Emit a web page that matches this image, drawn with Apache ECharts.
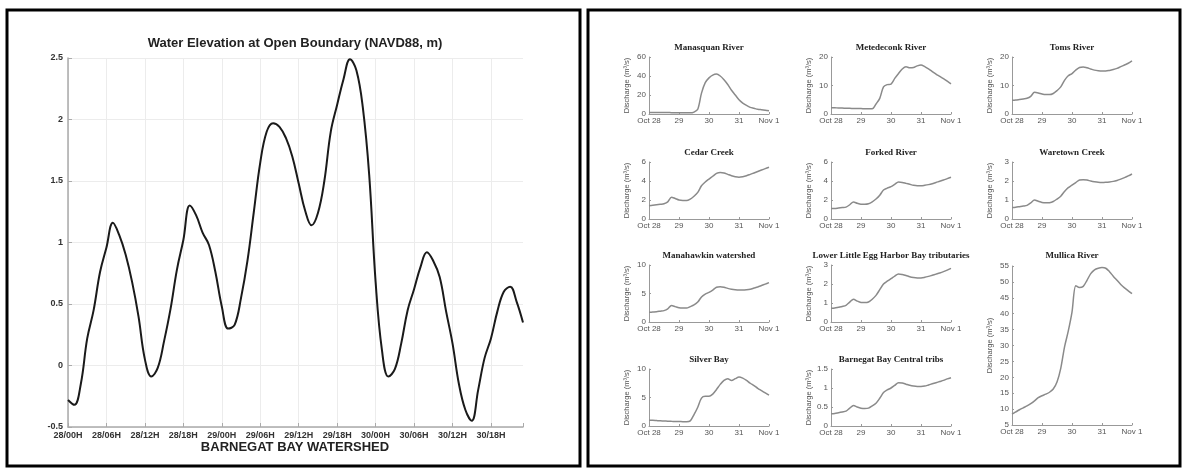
<!DOCTYPE html>
<html><head><meta charset="utf-8">
<script src="https://cdn.jsdelivr.net/npm/echarts@6/dist/echarts.min.js"></script>
<style>html,body{margin:0;padding:0;background:#fff}#c{width:1185px;height:468px}</style>
</head><body><div id="c"></div><script>
// ---------- LEFT: Water elevation (hourly, from 28/00H) ----------
const tideTickLabels = ['28/00H','28/06H','28/12H','28/18H','29/00H','29/06H','29/12H','29/18H','30/00H','30/06H','30/12H','30/18H'];
const waterElevation = [
  -0.28,-0.32,-0.15,0.22,0.45,0.76,0.96,1.16,1.06,0.90,0.68,0.40,
  0.05,-0.09,-0.02,0.20,0.46,0.78,1.02,1.30,1.22,1.08,0.98,0.76,
  0.48,0.30,0.33,0.55,0.85,1.25,1.65,1.90,1.97,1.94,1.85,1.70,
  1.48,1.26,1.14,1.24,1.50,1.90,2.12,2.33,2.49,2.40,2.10,1.55,
  0.68,0.12,-0.09,-0.03,0.18,0.45,0.62,0.80,0.92,0.85,0.72,0.44,
  0.18,-0.15,-0.36,-0.45,-0.20,0.06,0.22,0.44,0.60,0.64,0.52,0.35
];
// ---------- RIGHT: Discharge (every 3 h, Oct 28 -> Nov 1) ----------
const dayTickLabels = ['Oct 28','29','30','31','Nov 1'];
const dayTimes = [0,0.125,0.25,0.375,0.5,0.625,0.75,0.875,1,1.125,1.25,1.375,1.5,1.625,1.75,1.875,2,2.125,2.25,2.375,2.5,2.625,2.75,2.875,3,3.125,3.25,3.375,3.5,3.625,3.75,3.875,4];
const manasquan = [1.5,1.5,1.5,1.5,1.5,1.5,1.4,1.4,1.3,1.3,1.2,1.2,2,5,22,33,38,41,42,40,36,31,25,20,15,11.5,9,7,6,5,4.5,4,3.5];
const metedeconk = [2.2,2.2,2.1,2.1,2.0,2.0,1.9,1.9,1.9,1.8,1.8,1.8,3.5,5.5,9.5,10.3,10.5,12.5,14.2,15.8,16.6,16.2,16.3,16.9,17.2,16.6,15.8,14.9,14.0,13.2,12.4,11.5,10.6];
const toms = [4.8,4.9,5.1,5.3,5.5,6.2,7.6,7.4,7.0,6.8,6.8,7.2,8.2,9.5,11.8,13.4,14.2,15.4,16.3,16.5,16.2,15.8,15.4,15.2,15.1,15.1,15.3,15.6,16.0,16.6,17.2,17.8,18.6];
const cedar = [1.4,1.45,1.5,1.55,1.6,1.8,2.3,2.15,2.0,1.95,1.95,2.1,2.4,2.8,3.5,3.9,4.2,4.5,4.8,4.9,4.85,4.7,4.55,4.45,4.4,4.45,4.55,4.7,4.85,5.0,5.15,5.3,5.45];
const forked = [1.1,1.1,1.15,1.2,1.25,1.5,1.8,1.65,1.55,1.55,1.6,1.8,2.1,2.5,3.05,3.25,3.4,3.65,3.9,3.85,3.75,3.65,3.55,3.5,3.5,3.55,3.62,3.72,3.85,3.97,4.1,4.25,4.4];
const waretown = [0.6,0.62,0.65,0.68,0.72,0.85,1.0,0.93,0.87,0.85,0.86,0.92,1.05,1.2,1.45,1.65,1.78,1.92,2.05,2.07,2.05,2.0,1.96,1.93,1.92,1.93,1.95,1.98,2.03,2.1,2.18,2.27,2.37];
const manahawkin = [1.7,1.75,1.8,1.9,2.0,2.3,2.9,2.7,2.5,2.45,2.45,2.7,3.0,3.5,4.4,4.9,5.2,5.6,6.1,6.2,6.1,5.9,5.75,5.65,5.6,5.6,5.65,5.75,5.95,6.15,6.4,6.65,6.9];
const lowerLittleEgg = [0.72,0.74,0.78,0.82,0.88,1.05,1.2,1.1,1.03,1.02,1.05,1.2,1.4,1.7,2.0,2.15,2.28,2.42,2.53,2.5,2.45,2.38,2.34,2.32,2.32,2.35,2.4,2.46,2.52,2.58,2.65,2.73,2.82];
const mullica = [8.4,9.1,9.8,10.4,11.0,11.7,12.6,13.6,14.2,14.7,15.3,16.3,18.5,22.8,29.5,34.5,40.5,48.8,48.2,48.6,50.5,52.6,53.8,54.3,54.5,54.3,53.2,51.8,50.5,49.2,48.1,47.2,46.3];
const silverBay = [1.0,1.0,0.95,0.9,0.88,0.85,0.82,0.8,0.78,0.76,0.75,0.9,2.0,3.3,4.9,5.2,5.2,5.6,6.4,7.3,8.0,8.3,8.0,8.3,8.6,8.4,8.0,7.5,7.1,6.6,6.2,5.8,5.4];
const barnegatCentral = [0.32,0.33,0.35,0.37,0.39,0.47,0.54,0.5,0.47,0.46,0.47,0.53,0.6,0.73,0.88,0.95,1.0,1.07,1.14,1.13,1.1,1.07,1.05,1.04,1.04,1.05,1.08,1.11,1.14,1.17,1.2,1.24,1.27];

const panelTitles = ['Manasquan River','Metedeconk River','Toms River','Cedar Creek','Forked River','Waretown Creek','Manahawkin watershed','Lower Little Egg Harbor Bay tributaries','Mullica River','Silver Bay','Barnegat Bay Central tribs'];
const panelValues = [manasquan,metedeconk,toms,cedar,forked,waretown,manahawkin,lowerLittleEgg,mullica,silverBay,barnegatCentral];
const panelYMin = [0,0,0,0,0,0,0,0,5,0,0];
const panelYMax = [60,20,20,6,6,3,10,3,55,10,1.5];
const panelYStep = [20,10,10,2,2,1,5,1,5,5,0.5];

// layout (pixels)
const colX = [649, 831, 1012];
const rowY = [57, 162, 265, 369];
const panelLayout = [
  [0,0,1],[1,0,1],[2,0,1],
  [0,1,1],[1,1,1],[2,1,1],
  [0,2,1],[1,2,1],[2,2,2],
  [0,3,1],[1,3,1]
];

const chart = echarts.init(document.getElementById('c'));
const grids = [], xAxes = [], yAxes = [], series = [], graphics = [];

// left chart
grids.push({left:68, top:58, width:455, height:369});
const lastTickColors = tideTickLabels.map(()=> '#ececec').concat(['rgba(0,0,0,0)']);
xAxes.push({type:'value', gridIndex:0, min:0, max:71, interval:6,
  axisLine:{show:true, onZero:false, lineStyle:{color:'#aaa', width:1.5}},
  axisTick:{show:true, inside:true, length:4, lineStyle:{color:'#aaa'}},
  axisLabel:{margin:4, fontFamily:'Liberation Sans, Arial', fontWeight:'bold', fontSize:9, color:'#333',
    formatter:(v)=> (v % 6 === 0 && tideTickLabels[v/6]) ? tideTickLabels[v/6] : ''},
  splitLine:{show:true, lineStyle:{color:lastTickColors, width:1}}
});
yAxes.push({type:'value', gridIndex:0, min:-0.5, max:2.5, interval:0.5,
  axisLine:{show:true, lineStyle:{color:'#aaa', width:1.5}},
  axisTick:{show:true, inside:true, length:4, lineStyle:{color:'#aaa'}},
  axisLabel:{margin:5, fontFamily:'Liberation Sans, Arial', fontWeight:'bold', fontSize:9, color:'#333'},
  splitLine:{show:true, lineStyle:{color:'#ececec', width:1}}
});
series.push({type:'line', xAxisIndex:0, yAxisIndex:0, showSymbol:false, smooth:0.4,
  data: waterElevation.map((v,i)=>[i,v]), lineStyle:{color:'#1a1a1a', width:2}});
graphics.push({type:'text', x:295, y:43, style:{text:'Water Elevation at Open Boundary (NAVD88, m)', align:'center', verticalAlign:'middle',
  font:'bold 13px "Liberation Sans", Arial', fill:'#222'}});
graphics.push({type:'text', x:295, y:447, style:{text:'BARNEGAT BAY WATERSHED', align:'center', verticalAlign:'middle',
  font:'bold 13px "Liberation Sans", Arial', fill:'#222'}});

// right small multiples
panelTitles.forEach((t, k) => {
  const [c, r, span] = panelLayout[k];
  const left = colX[c], top = span === 2 ? rowY[r] + 1 : rowY[r];
  const height = span === 2 ? 425 - top : 57;
  const gi = k + 1;
  grids.push({left:left, top:top, width:120, height:height});
  xAxes.push({type:'value', gridIndex:gi, min:0, max:4, interval:1,
    axisLine:{show:true, onZero:false, lineStyle:{color:'#999', width:1}},
    axisTick:{show:true, inside:true, length:2, lineStyle:{color:'#999'}},
    axisLabel:{margin:3, fontFamily:'Liberation Sans, Arial', fontSize:8, color:'#555',
      formatter:(v)=> dayTickLabels[v] || ''},
    splitLine:{show:false}
  });
  yAxes.push({type:'value', gridIndex:gi, min:panelYMin[k], max:panelYMax[k], interval:panelYStep[k],
    name:'Discharge (m³/s)', nameLocation:'middle', nameRotate:90, nameGap:18,
    nameTextStyle:{fontFamily:'Liberation Sans, Arial', fontSize:7.5, color:'#555'},
    axisLine:{show:true, lineStyle:{color:'#999', width:1}},
    axisTick:{show:true, inside:true, length:2, lineStyle:{color:'#999'}},
    axisLabel:{margin:3, fontFamily:'Liberation Sans, Arial', fontSize:8, color:'#555'},
    splitLine:{show:false}
  });
  series.push({type:'line', xAxisIndex:gi, yAxisIndex:gi, showSymbol:false, smooth:0.3,
    data: panelValues[k].map((v,i)=>[dayTimes[i], v]), lineStyle:{color:'#8a8a8a', width:1.5}});
  graphics.push({type:'text', x:left + 60, y:top - 9 - (span===2?1:0), style:{text:t, align:'center', verticalAlign:'middle',
    font:'bold 9px "Liberation Serif", "Times New Roman", serif', fill:'#222'}});
});

// panel borders
graphics.push({type:'rect', shape:{x:7, y:10, width:573, height:456}, style:{fill:'none', stroke:'#000', lineWidth:3}, z:100});
graphics.push({type:'rect', shape:{x:588, y:10, width:592, height:456}, style:{fill:'none', stroke:'#000', lineWidth:3}, z:100});

chart.setOption({
  animation:false,
  backgroundColor:'#fff',
  grid:grids, xAxis:xAxes, yAxis:yAxes, series:series,
  graphic:graphics
});
</script></body></html>
